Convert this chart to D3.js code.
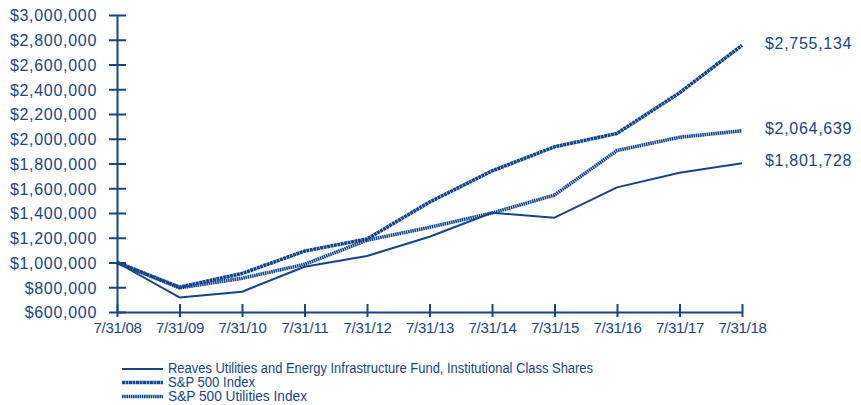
<!DOCTYPE html>
<html>
<head>
<meta charset="utf-8">
<script src="https://cdn.jsdelivr.net/npm/d3@7"></script>
<style>
  body { margin: 0; background: #fff; }
  svg { display: block; font-family: "Liberation Sans", Arial, sans-serif; }
</style>
</head>
<body>
<svg id="chart" width="861" height="405"></svg>
<script>
// data
var dates = ["7/31/08", "7/31/09", "7/31/10", "7/31/11", "7/31/12", "7/31/13",
             "7/31/14", "7/31/15", "7/31/16", "7/31/17", "7/31/18"];
var fundValues = [1000000, 718000, 764000, 966000, 1052000, 1208000,
                  1402000, 1362000, 1607000, 1726000, 1801728];
var sp500Values = [1000000, 800400, 911000, 1092000, 1190000, 1488000,
                   1740000, 1935000, 2043000, 2371000, 2755134];
var utilValues = [1000000, 795000, 872000, 985000, 1180000, 1284000,
                  1400000, 1545000, 1905000, 2012000, 2064639];
var yTicks = [600000, 800000, 1000000, 1200000, 1400000, 1600000, 1800000,
              2000000, 2200000, 2400000, 2600000, 2800000, 3000000];
var seriesNames = ["Reaves Utilities and Energy Infrastructure Fund, Institutional Class Shares",
                   "S&P 500 Index",
                   "S&P 500 Utilities Index"];

var blue = "#15468a";
var svg = d3.select("#chart");

var x = d3.scalePoint().domain(dates).range([117, 742]);
var y = d3.scaleLinear().domain([600000, 3000000]).range([312, 15]);
var money = d3.format("$,");

// y axis, ticks cross the line
var yAxis = svg.append("g")
    .attr("transform", "translate(117,0)")
    .call(d3.axisLeft(y).tickValues(yTicks).tickSize(8).tickFormat(money).tickSizeOuter(0));
yAxis.selectAll(".tick").append("line").attr("x1", 0).attr("x2", 9).attr("stroke", blue);
yAxis.select(".domain").attr("stroke", blue).attr("stroke-width", 2);
yAxis.selectAll(".tick line").attr("stroke", blue).attr("stroke-width", 2);
yAxis.selectAll(".tick text")
    .attr("x", -20).attr("dy", "0.36em")
    .attr("fill", blue).style("font-size", "16px").style("letter-spacing", "0.7px");

// x axis
var xAxis = svg.append("g")
    .attr("transform", "translate(0,312)")
    .call(d3.axisBottom(x).tickSize(5).tickSizeOuter(0));
xAxis.selectAll(".tick").append("line").attr("y1", 0).attr("y2", -8).attr("stroke", blue);
xAxis.select(".domain").attr("stroke", blue).attr("stroke-width", 2);
xAxis.selectAll(".tick line").attr("stroke", blue).attr("stroke-width", 2);
xAxis.selectAll(".tick text")
    .attr("y", 10).attr("dy", "0.71em")
    .attr("fill", blue).style("font-size", "15px").style("letter-spacing", "-0.3px");

// series
var line = d3.line().x(function (d, i) { return x(dates[i]); }).y(function (d) { return y(d); });
var styles = [
    { values: fundValues, width: 2, dash: null },
    { values: sp500Values, width: 3.6, dash: "3,0.5" },
    { values: utilValues, width: 3.6, dash: "1.6,0.6" }
];
styles.forEach(function (s) {
    svg.append("path")
        .attr("d", line(s.values))
        .attr("fill", "none")
        .attr("stroke", blue)
        .attr("stroke-width", s.width)
        .attr("stroke-dasharray", s.dash)
        .attr("stroke-linejoin", "round");
});

// end labels
var endLabels = [sp500Values, utilValues, fundValues];
var endY = [49, 134, 166];
endLabels.forEach(function (vals, i) {
    svg.append("text")
        .attr("x", 765).attr("y", endY[i])
        .attr("fill", blue).style("font-size", "16px").style("letter-spacing", "0.7px")
        .text(money(vals[vals.length - 1]));
});

// legend
var legendLineY = [369, 382.5, 396.5];
var legendTextY = [372.5, 386.5, 400.5];
var legendLen = [425, 87, 139];
styles.forEach(function (s, i) {
    svg.append("line")
        .attr("x1", 122).attr("x2", 163)
        .attr("y1", legendLineY[i]).attr("y2", legendLineY[i])
        .attr("stroke", blue)
        .attr("stroke-width", s.width)
        .attr("stroke-dasharray", s.dash);
    svg.append("text")
        .attr("x", 168).attr("y", legendTextY[i])
        .attr("fill", blue).style("font-size", "14px")
        .attr("textLength", legendLen[i]).attr("lengthAdjust", "spacingAndGlyphs")
        .text(seriesNames[i]);
});
</script>
</body>
</html>
